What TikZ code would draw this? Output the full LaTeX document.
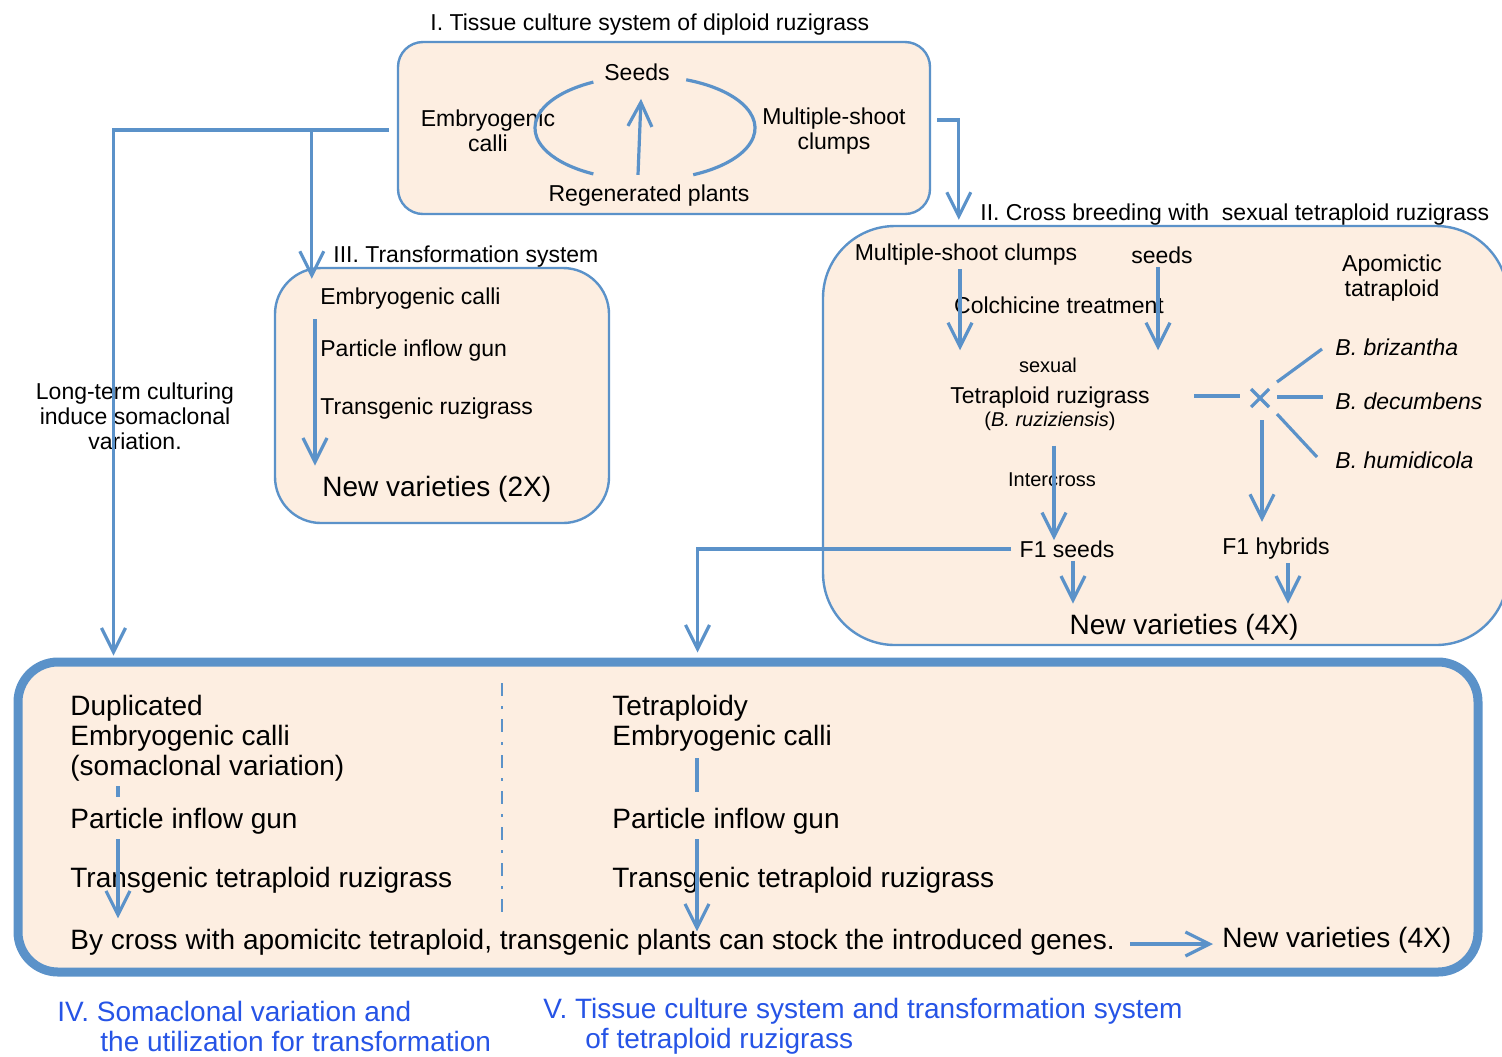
\documentclass[tikz,border=0pt]{standalone}
\usepackage{fontspec}
\setmainfont{Liberation Sans}
\usetikzlibrary{arrows.meta}
\definecolor{lineblue}{RGB}{91,146,201}
\definecolor{peach}{RGB}{253,238,225}
\definecolor{labelblue}{RGB}{38,84,230}
\tikzset{
  panel/.style={draw=lineblue,fill=peach,line width=1.2pt,inner sep=0pt},
  flow/.style={draw=lineblue,line width=1.6pt,-{Straight Barb[length=12pt,width=12pt]}},
  link/.style={draw=lineblue,line width=1.6pt},
  txt/.style={font=\fontsize{11.5}{12.5}\selectfont,inner sep=0pt,yshift=-1.5pt},
  smalltxt/.style={font=\fontsize{10}{11}\selectfont,inner sep=0pt,yshift=-1.5pt},
  bigtxt/.style={font=\fontsize{14}{15}\selectfont,inner sep=0pt,anchor=west,yshift=-1.5pt},
}
\begin{document}
\begin{tikzpicture}[x=0.5pt,y=-0.5pt]
  \useasboundingbox (0,0) rectangle (1502,1056);
  % panels
  \node[panel,rounded corners=12.5pt,minimum width=266pt,minimum height=86pt] (tissue) at (664,128) {};
  \node[panel,rounded corners=36pt,minimum width=342.5pt,minimum height=209.5pt] (breed) at (1165.5,435.5) {};
  \node[panel,rounded corners=23pt,minimum width=167pt,minimum height=127.5pt] (transf) at (442,395.5) {};
  \node[panel,line width=4.5pt,rounded corners=20pt,minimum width=730pt,minimum height=155pt] (stage) at (748,817) {};
  % titles
  \node[txt,anchor=west] (title1) at (430,22) {I. Tissue culture system of diploid ruzigrass};
  \node[txt,anchor=west] (title2) at (980,212) {II. Cross breeding with\ \ sexual tetraploid ruzigrass};
  \node[txt,anchor=west] (title3) at (333,254) {III. Transformation system};
  % I. tissue culture loop
  \node[txt] (seeds1) at (637,69) {Seeds};
  \node[txt,align=center] (embryo1) at (488,128) {Embryogenic\\calli};
  \node[txt,align=center] (shoot1) at (834,128) {Multiple-shoot\\clumps};
  \node[txt] (regen) at (649,193) {Regenerated plants};
  \coordinate (loop) at (645,128);
  \draw[link] (loop) ++(242:110 and 52) arc[start angle=242,end angle=118,x radius=110,y radius=52];
  \draw[link] (loop) ++(-68:110 and 52) arc[start angle=-68,end angle=64,x radius=110,y radius=52];
  \draw[flow] ([shift={(-11,-10)}]regen.north) -- ([shift={(4,18)}]seeds1.south);
  % II. cross breeding
  \node[txt] (msc) at (966,252) {Multiple-shoot clumps};
  \node[txt] (seeds2) at (1162,252) {seeds};
  \node[txt,align=center] (apo) at (1392,275) {Apomictic\\tatraploid};
  \node[txt] (colch) at (1059,302) {Colchicine treatment};
  \node[smalltxt] (sexual) at (1048,362) {sexual};
  \node[txt] (tetra) at (1050,395) {Tetraploid ruzigrass};
  \node[smalltxt] (ruzi) at (1050,418) {(\textit{B. ruziziensis})};
  \node[smalltxt] (inter) at (1052,477) {Intercross};
  \node[txt,anchor=west] (briz) at (1335,344) {\textit{B. brizantha}};
  \node[txt,anchor=west] (decu) at (1335,398) {\textit{B. decumbens}};
  \node[txt,anchor=west] (humi) at (1335,457) {\textit{B. humidicola}};
  \node[txt] (fseeds) at (1067,546) {F1 seeds};
  \node[txt] (fhyb) at (1276,546) {F1 hybrids};
  \node[bigtxt,anchor=center] (newv4) at (1184,624) {New varieties (4X)};
  \coordinate (xmark) at (1260,398);
  \draw[link] ([shift={(-9,-9)}]xmark) -- ([shift={(9,9)}]xmark);
  \draw[link] ([shift={(-9,9)}]xmark) -- ([shift={(9,-9)}]xmark);
  \draw[link] ([shift={(-66,-2)}]xmark) -- ([shift={(-20,-2)}]xmark);
  \draw[link] ([shift={(17,-1)}]xmark) -- ++(46,0);
  \draw[link] ([shift={(17,-16)}]xmark) -- ([shift={(-13,2)}]briz.west);
  \draw[link] ([shift={(17,16)}]xmark) -- ([shift={(-18,-3)}]humi.west);
  \draw[flow] ([shift={(-6,3)}]msc.south) -- ([shift={(-88,-7)}]sexual.north);
  \draw[flow] ([shift={(-4,3)}]seeds2.south) -- ([shift={(110,-7)}]sexual.north);
  \draw[flow] ([shift={(2,22)}]xmark) -- ([shift={(-14,-16)}]fhyb.north);
  \draw[flow] ([shift={(4,15)}]ruzi.south) -- ([shift={(-13,0)}]fseeds.north);
  \draw[flow] ([shift={(6,3)}]fseeds.south) -- ([shift={(-111,-10)}]newv4.north);
  \draw[flow] ([shift={(12,3)}]fhyb.south) -- ([shift={(104,-10)}]newv4.north);
  % III. transformation
  \node[txt,anchor=west] (emb3) at (320,296) {Embryogenic calli};
  \node[txt,anchor=west] (pig3) at (320,348) {Particle inflow gun};
  \node[txt,anchor=west] (trans3) at (320,406) {Transgenic ruzigrass};
  \node[bigtxt] (newv2) at (322,486) {New varieties (2X)};
  \draw[flow] ([shift={(-5,9)}]emb3.south west) -- ([shift={(-7,-10)}]newv2.north west);
  \node[txt,align=center] (longterm) at (135,413) {Long-term culturing\\induce somaclonal\\variation.};
  % connectors between panels
  \draw[flow] ([shift={(-8,2)}]tissue.west) -| ([shift={(100,-2)}]stage.north west);
  \draw[flow] ([shift={(-85,2)}]tissue.west) -- ([shift={(38,12)}]transf.north west);
  \draw[flow] ([shift={(6,-8)}]tissue.east) -| ([shift={(137,-5)}]breed.north west);
  \draw[flow] ([xshift=-4pt]fseeds.west) -| ([shift={(684,-5)}]stage.north west);
  % IV. and V.
  \node[bigtxt,align=left] (dup) at (70,735) {Duplicated\\Embryogenic calli\\(somaclonal variation)};
  \node[bigtxt] (pig4) at (70,818) {Particle inflow gun};
  \node[bigtxt] (trans4) at (70,877) {Transgenic tetraploid ruzigrass};
  \node[bigtxt,align=left] (tetra5) at (612,720) {Tetraploidy\\Embryogenic calli};
  \node[bigtxt] (pig5) at (612,818) {Particle inflow gun};
  \node[bigtxt] (trans5) at (612,877) {Transgenic tetraploid ruzigrass};
  \node[bigtxt] (bycross) at (70,939) {By cross with apomicitc tetraploid, transgenic plants can stock the introduced genes.};
  \node[bigtxt] (newv4b) at (1222,937) {New varieties (4X)};
  \draw[link] ([shift={(48,5)}]dup.south west) -- ++(0,11);
  \draw[flow] ([shift={(48,5)}]pig4.south west) -- ++(0,79);
  \draw[link] ([shift={(85,7)}]tetra5.south west) -- ([shift={(85,-16)}]pig5.north west);
  \draw[flow] ([shift={(85,5)}]pig5.south west) -- ++(0,92);
  \draw[flow] ([shift={(15,2)}]bycross.east) -- ([shift={(-9,4)}]newv4b.west);
  \draw[lineblue,line width=1.2pt,dash pattern=on 6.5pt off 5pt on 1.5pt off 5pt] (502,683) -- (502,915);
  \node[bigtxt,text=labelblue,align=left] (lab4) at (57,1023) {IV. Somaclonal variation and\\\hspace*{21.5pt}the utilization for transformation};
  \node[bigtxt,text=labelblue,align=left] (lab5) at (543,1023) {V. Tissue culture system and transformation system\\\hspace*{21pt}of tetraploid ruzigrass};
\end{tikzpicture}
\end{document}
